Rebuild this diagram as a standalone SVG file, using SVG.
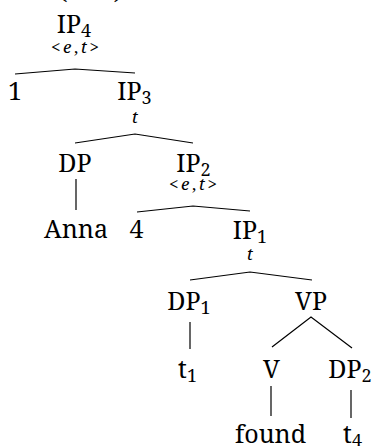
<svg xmlns="http://www.w3.org/2000/svg" width="375" height="446" viewBox="0 0 375 446">
  <style>
    text { font-family: "Noto Serif", "DejaVu Serif", serif; fill: #000; text-anchor: middle; }
    .lbl { font-size: 25px; }
    .sub { font-size: 18px; }
    .typ { font-size: 17px; }
    .it { font-style: italic; }
    .edge { stroke: #000; stroke-width: 1.2; fill: none; stroke-linecap: butt; }
  </style>
  <rect width="375" height="446" fill="#fff"/>

  <!-- enclosing brackets above the root -->
  <g id="brackets">
    <text class="lbl" x="63" y="-1">(</text>
    <text class="lbl" x="118" y="-1">)</text>
  </g>

  <!-- branches -->
  <g id="connectors">
    <path class="edge" d="M15 74 L75 69 L135 73"/>
    <path class="edge" d="M75 143 L135 134 L193 143"/>
    <path class="edge" d="M76 179 L76 210"/>
    <path class="edge" d="M137 212 L193 206 L250 211"/>
    <path class="edge" d="M190 280 L250 272 L312 280"/>
    <path class="edge" d="M190 322 L190 349"/>
    <path class="edge" d="M272 347 L311 317 L352 348"/>
    <path class="edge" d="M271 386 L271 416"/>
    <path class="edge" d="M351 390 L351 418"/>
  </g>

  <g id="IP4">
    <text class="lbl" x="74" y="33">IP<tspan class="sub" dy="4">4</tspan></text>
    <text class="typ" x="75" y="53" textLength="48" lengthAdjust="spacing">&lt;<tspan class="it">e</tspan>,<tspan class="it">t</tspan>&gt;</text>
  </g>
  <g id="n1">
    <text class="lbl" x="15" y="100">1</text>
  </g>
  <g id="IP3">
    <text class="lbl" x="134.5" y="100">IP<tspan class="sub" dy="4">3</tspan></text>
    <text class="typ it" x="135" y="123">t</text>
  </g>
  <g id="DP">
    <text class="lbl" x="75" y="172">DP</text>
  </g>
  <g id="Anna">
    <text class="lbl" x="76" y="238">Anna</text>
  </g>
  <g id="IP2">
    <text class="lbl" x="193.5" y="172">IP<tspan class="sub" dy="4">2</tspan></text>
    <text class="typ" x="193" y="190" textLength="48" lengthAdjust="spacing">&lt;<tspan class="it">e</tspan>,<tspan class="it">t</tspan>&gt;</text>
  </g>
  <g id="n4">
    <text class="lbl" x="136.5" y="238">4</text>
  </g>
  <g id="IP1">
    <text class="lbl" x="250" y="239">IP<tspan class="sub" dy="4">1</tspan></text>
    <text class="typ it" x="250" y="260">t</text>
  </g>
  <g id="DP1">
    <text class="lbl" x="189" y="310">DP<tspan class="sub" dy="4">1</tspan></text>
  </g>
  <g id="t1">
    <text class="lbl" x="187.5" y="378">t<tspan class="sub" dy="4">1</tspan></text>
  </g>
  <g id="VP">
    <text class="lbl" x="311" y="310">VP</text>
  </g>
  <g id="V">
    <text class="lbl" x="271.5" y="378">V</text>
  </g>
  <g id="found">
    <text class="lbl" x="270.5" y="443">found</text>
  </g>
  <g id="DP2">
    <text class="lbl" x="350" y="378">DP<tspan class="sub" dy="4">2</tspan></text>
  </g>
  <g id="t4">
    <text class="lbl" x="352.5" y="443">t<tspan class="sub" dy="4">4</tspan></text>
  </g>
</svg>
